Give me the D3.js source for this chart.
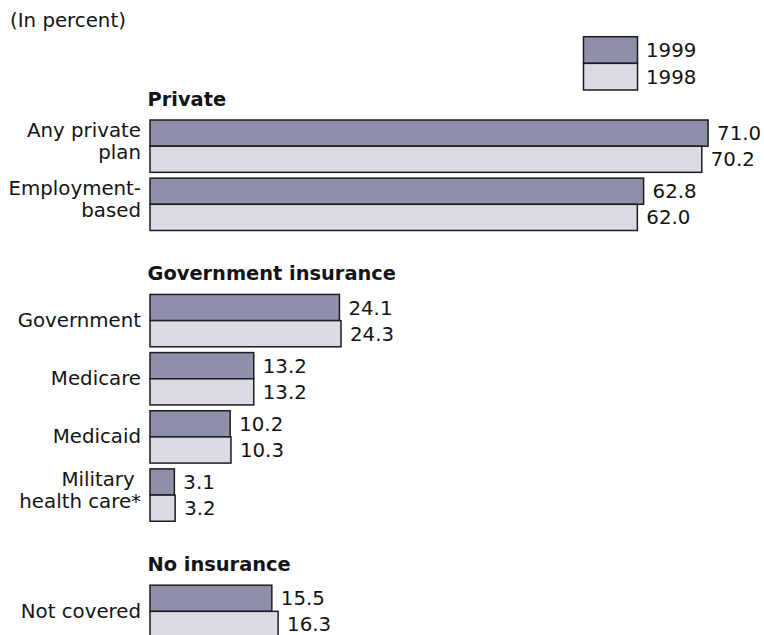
<!DOCTYPE html>
<html>
<head>
<meta charset="utf-8">
<title>Health insurance coverage, 1998 and 1999</title>
<script src="https://cdn.jsdelivr.net/npm/d3@7"></script>
<style>
  html, body { margin: 0; padding: 0; background: #ffffff; }
  svg { display: block; }
  text { font-family: "DejaVu Sans", Verdana, sans-serif; fill: #141414; }
</style>
</head>
<body>
<div id="chart"></div>
<script>
// Coverage categories, grouped into sections
const sections = ["Private", "Government insurance", "No insurance"];
const categories = ["Any private plan", "Employment-based", "Government", "Medicare",
                    "Medicaid", "Military health care*", "Not covered"];
const categorySection = [0, 0, 1, 1, 1, 1, 2];
const categoryLines = [["Any private", "plan"], ["Employment-", "based"], ["Government"],
                       ["Medicare"], ["Medicaid"], ["Military\u00a0", "health care*"], ["Not covered"]];
const years = ["1999", "1998"];
const values1999 = [71.0, 62.8, 24.1, 13.2, 10.2, 3.1, 15.5];
const values1998 = [70.2, 62.0, 24.3, 13.2, 10.3, 3.2, 16.3];
const unitNote = "(In percent)";

const colors = { "1999": "#8e90aa", "1998": "#dcdae5" };
const W = 764, H = 635;
const fontSize = 19.8;

const svg = d3.select("#chart").append("svg")
  .attr("width", W).attr("height", H)
  .attr("viewBox", `0 0 ${W} ${H}`);

// Row slots: an empty slot between sections holds the section heading
const slots = [];
categories.forEach((c, i) => {
  if (i > 0 && categorySection[i] !== categorySection[i - 1]) slots.push("gap-" + i);
  slots.push(c);
});

const step = 58.15;
const y = d3.scaleBand()
  .domain(slots)
  .range([120, 120 + step * (slots.length - 0.1)])
  .paddingInner(0.1)
  .paddingOuter(0);

const yYear = d3.scaleBand().domain(years).range([0, y.bandwidth()]);

const x = d3.scaleLinear().domain([0, 100]).range([150, 936]);

const rows = categories.map((c, i) => ({
  name: c,
  lines: categoryLines[i],
  section: categorySection[i],
  values: [{ year: "1999", v: values1999[i] }, { year: "1998", v: values1998[i] }]
}));

// Unit note
svg.append("text")
  .attr("x", 10).attr("y", 27)
  .attr("font-size", fontSize)
  .text(unitNote);

// Section headings, just above the first row of each section
sections.forEach((s, si) => {
  const first = rows.find(r => r.section === si);
  svg.append("text")
    .attr("x", 147.5)
    .attr("y", y(first.name) - 14.5)
    .attr("font-size", 19.4)
    .attr("font-weight", "bold")
    .text(s);
});

const groups = svg.selectAll("g.row")
  .data(rows)
  .join("g")
  .attr("class", "row")
  .attr("transform", d => `translate(0,${y(d.name)})`);

// Bars
groups.selectAll("rect")
  .data(d => d.values)
  .join("rect")
  .attr("x", x(0))
  .attr("y", d => yYear(d.year))
  .attr("width", d => x(d.v) - x(0))
  .attr("height", yYear.bandwidth())
  .attr("fill", d => colors[d.year])
  .attr("stroke", "#1c1c1c")
  .attr("stroke-width", 1.5);

// Value labels
groups.selectAll("text.val")
  .data(d => d.values)
  .join("text")
  .attr("class", "val")
  .attr("x", d => x(d.v) + 9)
  .attr("y", d => yYear(d.year) + yYear.bandwidth() / 2 + 7)
  .attr("font-size", fontSize)
  .text(d => d3.format(".1f")(d.v));

// Category labels
const mid = y.bandwidth() / 2;
groups.append("text")
  .attr("class", "cat")
  .attr("text-anchor", "end")
  .attr("font-size", fontSize)
  .style("white-space", "pre")
  .selectAll("tspan")
  .data(d => d.lines.map((t, i) => ({ t, i, n: d.lines.length })))
  .join("tspan")
  .attr("x", 141)
  .attr("y", d => d.n === 1 ? mid + 6.5 : (d.i === 0 ? mid - 9.5 : mid + 13))
  .text(d => d.t);

// Legend
const legendY = d3.scaleBand().domain(years).range([36.7, 90]);
const legend = svg.append("g").attr("class", "legend");
legend.selectAll("rect")
  .data(years)
  .join("rect")
  .attr("x", 583.5)
  .attr("y", d => legendY(d))
  .attr("width", 54)
  .attr("height", legendY.bandwidth())
  .attr("fill", d => colors[d])
  .attr("stroke", "#1c1c1c")
  .attr("stroke-width", 1.5);
legend.selectAll("text")
  .data(years)
  .join("text")
  .attr("x", 646)
  .attr("y", d => legendY(d) + legendY.bandwidth() / 2 + 7)
  .attr("font-size", fontSize)
  .text(d => d);
</script>
</body>
</html>
